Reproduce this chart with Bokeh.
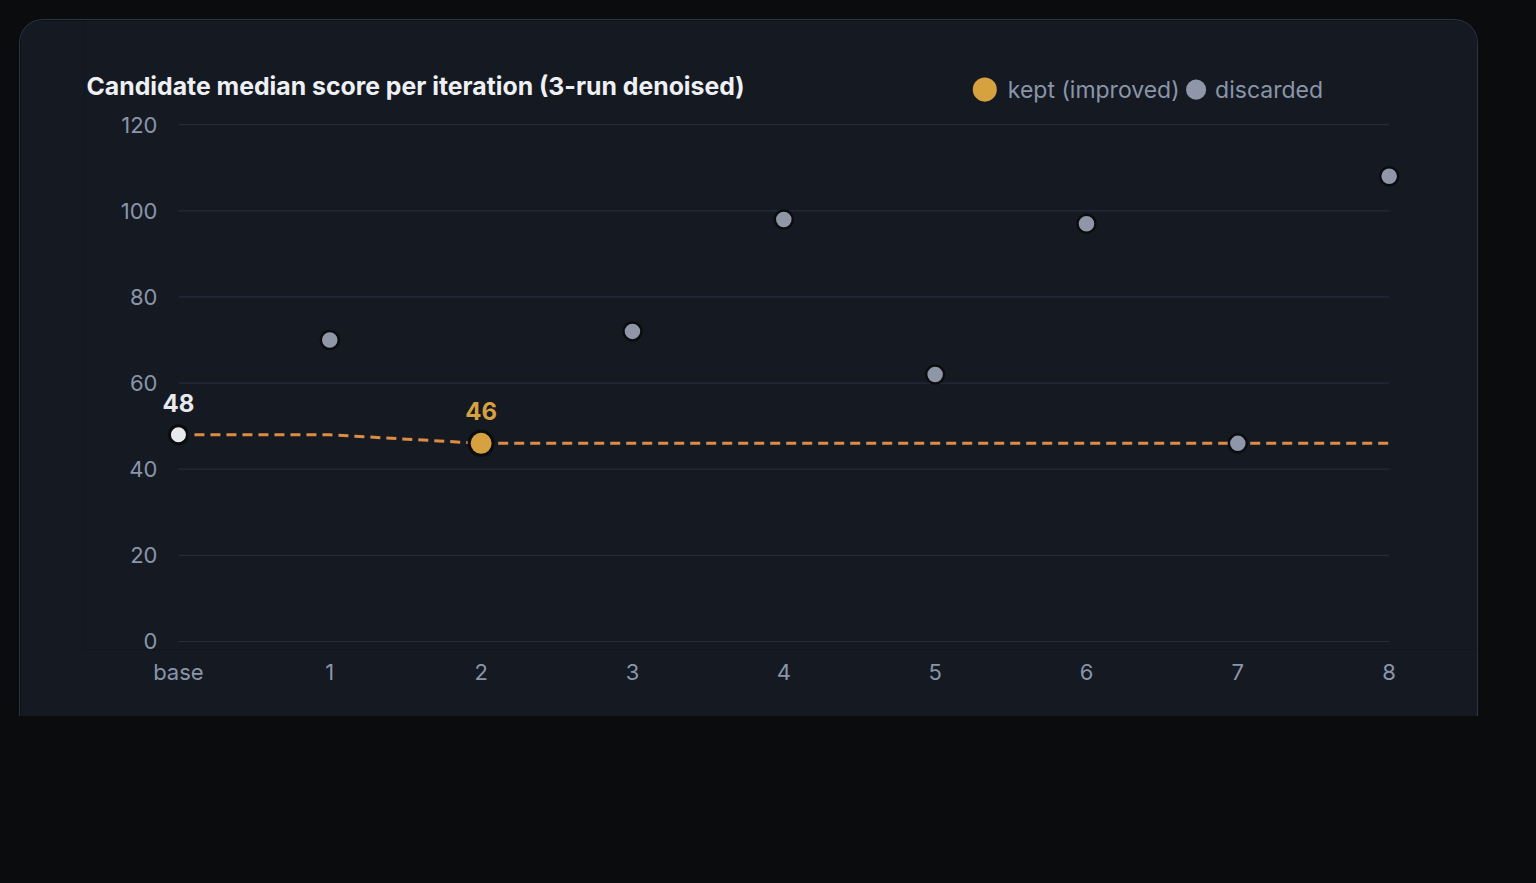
from bokeh.plotting import figure
from bokeh.layouts import column
from bokeh.models import BoxAnnotation, Label, Range1d, FixedTicker, Spacer
from bokeh.embed import file_html
from bokeh.resources import INLINE

# ---------------- data ----------------
iterations = [0, 1, 2, 3, 4, 5, 6, 7, 8]
iter_labels = ["base", "1", "2", "3", "4", "5", "6", "7", "8"]
scores = [48, 70, 46, 72, 98, 62, 97, 46, 108]
status = ["base", "discarded", "kept", "discarded", "discarded",
          "discarded", "discarded", "discarded", "discarded"]
y_ticks = [0, 20, 40, 60, 80, 100, 120]
title_text = "Candidate median score per iteration (3-run denoised)"
legend_labels = ["kept (improved)", "discarded"]

# running best (base + kept candidates)
best = []
cur = None
for s, st in zip(scores, status):
    if st in ("base", "kept") and (cur is None or s < cur):
        cur = s
    best.append(cur)

# ---------------- styles ----------------
PAGE = "#0b0c0e"
CARD = "#151922"
CARD_LINE = "#2a3648"
GRID = "#252c38"
TICK_TXT = "#8a95a9"
TITLE_TXT = "#eef0f3"
KEPT = "#d6a23f"
LINE = "#de8b44"
DISC = "#8e96a8"
BASE = "#e8e9ec"
FONT = "Inter"

W, H = 1536, 883
CARD_L, CARD_T, CARD_R, CARD_B = 20, 20, 1477, 716
# page-pixel geometry of the value scale (1px compensation for card border)
X0_PX, X8_PX = 177.8, 1386.8
Y0_PX, Y120_PX = 640.0, 124.0
xpp = (X8_PX - X0_PX) / 8.0
ypp = (Y0_PX - Y120_PX) / 120.0
F_L, F_R, F_T, F_B = 84, CARD_R, CARD_T, 648


def px2x(px):
    return (px - X0_PX) / xpp


def px2y(py):
    return (Y0_PX - py) / ypp


p = figure(
    frame_width=F_R - F_L, frame_height=F_B - F_T,
    min_border_left=F_L - CARD_L, min_border_right=0,
    min_border_top=0, min_border_bottom=CARD_B - F_B,
    x_range=Range1d(px2x(F_L), px2x(F_R)),
    y_range=Range1d(px2y(F_B), px2y(F_T)),
    output_backend="svg", toolbar_location=None,
    background_fill_color=CARD, border_fill_color=CARD,
    outline_line_color=None,
)
p.margin = (CARD_T - 1, 0, 0, CARD_L - 1)
p.styles = {
    "border-top": f"1px solid {CARD_LINE}",
    "border-left": f"1px solid {CARD_LINE}",
    "border-right": f"1px solid {CARD_LINE}",
    "border-radius": "24px 24px 0 0",
    "overflow": "hidden",
}
p.xgrid.visible = False
p.ygrid.visible = False

# grid lines at tick values, spanning the iteration range
p.segment(x0=[iterations[0]] * len(y_ticks), x1=[iterations[-1]] * len(y_ticks),
          y0=y_ticks, y1=y_ticks, line_color=GRID, line_width=1.2)

# axes
for ax in (p.xaxis[0], p.yaxis[0]):
    ax.axis_line_color = None
    ax.major_tick_line_color = None
    ax.minor_tick_line_color = None
    ax.major_tick_in = 0
    ax.major_tick_out = 0
    ax.major_label_text_font = FONT
    ax.major_label_text_font_size = "22px"
    ax.major_label_text_color = TICK_TXT
p.yaxis.ticker = FixedTicker(ticks=y_ticks)
p.yaxis.fixed_location = iterations[0]
p.yaxis.major_label_standoff = 21
p.xaxis.ticker = FixedTicker(ticks=iterations)
p.xaxis.major_label_overrides = {i: l for i, l in zip(iterations, iter_labels)}
p.xaxis.major_label_standoff = 9

# best-so-far dashed line
p.line(iterations, best, line_color=LINE, line_width=3, line_dash="10 6")

# discarded points
dx = [i for i, st in zip(iterations, status) if st == "discarded"]
dy = [s for s, st in zip(scores, status) if st == "discarded"]
p.scatter(dx, dy, size=18, fill_color=DISC, line_color=PAGE, line_width=2.5)

# base point
bx = [i for i, st in zip(iterations, status) if st == "base"]
by = [s for s, st in zip(scores, status) if st == "base"]
p.scatter(bx, by, size=18, fill_color=BASE, line_color=PAGE, line_width=3)

# kept points
kx = [i for i, st in zip(iterations, status) if st == "kept"]
ky = [s for s, st in zip(scores, status) if st == "kept"]
p.scatter(kx, ky, size=24, fill_color=KEPT, line_color=PAGE, line_width=3)

# value labels
for x, y in zip(bx, by):
    p.add_layout(Label(x=x, y=y, text=str(y), y_offset=32, text_align="center",
                       text_baseline="alphabetic", text_font=FONT,
                       text_font_size="24px", text_font_style="bold",
                       text_color=BASE))
for x, y in zip(kx, ky):
    p.add_layout(Label(x=x, y=y, text=str(y), y_offset=32, text_align="center",
                       text_baseline="alphabetic", text_font=FONT,
                       text_font_size="24px", text_font_style="bold",
                       text_color=KEPT))

# title
p.add_layout(Label(x=px2x(86), y=px2y(85), text=title_text,
                   text_align="left", text_baseline="middle",
                   text_font=FONT, text_font_size="24.8px", text_font_style="bold",
                   text_color=TITLE_TXT))

# legend
legend_geom = [(KEPT, 983, 24, 1006), (DISC, 1194, 20, 1213)]
for text, (col, cx, d, tx) in zip(legend_labels, legend_geom):
    r = d / 2
    p.add_layout(BoxAnnotation(left=px2x(cx - r), right=px2x(cx + r),
                               top=px2y(89 - r), bottom=px2y(89 + r),
                               fill_color=col, fill_alpha=1, line_color=None,
                               border_radius=int(r), level="annotation"))
    p.add_layout(Label(x=px2x(tx), y=px2y(89), text=text,
                       text_align="left", text_baseline="middle",
                       text_font=FONT, text_font_size="23px",
                       text_color=TICK_TXT))

filler = Spacer(width=W, height=H - CARD_B)
page = column(p, filler, width=W, styles={"background-color": PAGE})
open("out.html", "w").write(file_html(page, INLINE))
